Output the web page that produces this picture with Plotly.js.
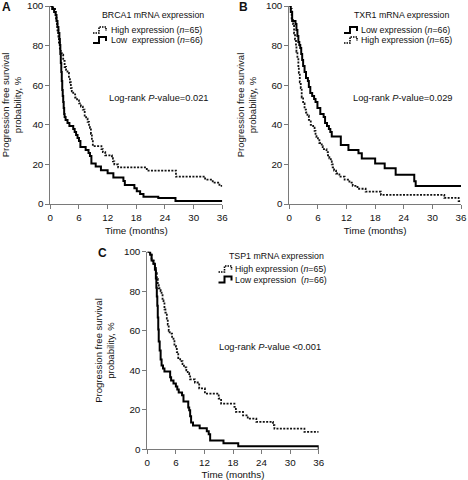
<!DOCTYPE html>
<html><head><meta charset="utf-8">
<script src="https://cdn.plot.ly/plotly-3.0.1.min.js"></script>
<style>html,body{margin:0;padding:0;background:#fff}#chart{width:468px;height:480px}</style>
</head><body><div id="chart"></div>
<script>
// ---- data (months, % progression-free) ----
const xTicks = [0, 6, 12, 18, 24, 30, 36];
const yTicks = [0, 20, 40, 60, 80, 100];

// Panel A: BRCA1
const brca1HighT = [0,0.6,1.0,1.2,1.4,1.5,1.7,1.8,2.0,2.2,2.4,2.7,3.0,3.3,3.6,3.9,4.1,4.3,4.5,4.8,5.2,5.6,6.0,6.4,6.8,7.2,7.5,7.8,8.1,8.3,8.5,8.7,8.9,10.7,11.0,11.5,12.9,13.1,13.4,14.2,20.2,26.3,32.4,34.0,35.4,36];
const brca1HighS = [100,98.5,96.9,93.8,90.8,87.7,84.6,81.5,78.5,76.9,75.4,72.3,69.2,67.7,66.2,63.1,61.5,58.5,56.9,55.4,53.8,52.3,50.8,49.2,47.7,44.6,43.1,41.5,40.0,38.5,35.4,32.3,29.2,27.7,26.2,24.6,23.1,21.5,20.0,18.5,16.9,13.8,12.3,10.8,9.2,9.2];
const brca1LowT = [0,0.4,0.8,1.1,1.3,1.5,1.7,1.9,2.0,2.1,2.2,2.3,2.4,2.5,2.6,2.7,2.8,2.9,3.0,3.2,3.6,4.0,4.8,5.1,5.4,5.7,6.0,6.3,7.4,8.0,8.3,8.6,9.5,10.6,12.0,13.2,15.3,15.6,17.6,18.1,18.8,19.5,22.6,26.2,36];
const brca1LowS = [100,98.5,97.0,95.5,92.4,89.4,86.4,83.3,80.3,75.8,71.2,66.7,62.1,57.6,54.5,51.5,48.5,45.5,43.9,42.4,40.9,39.4,37.9,36.4,34.8,33.3,31.8,28.8,27.3,25.8,24.2,20.5,18.9,17.0,15.5,13.4,11.6,9.6,7.9,6.4,5.0,3.7,3.0,1.5,1.5];

// Panel B: TXR1
const txr1LowT = [0,0.3,0.6,1.3,1.5,1.7,1.9,2.1,2.3,2.5,2.7,2.9,3.2,3.5,3.9,4.1,4.4,4.8,5.2,5.5,5.9,6.5,7.2,7.5,7.9,8.3,8.6,8.9,10.8,12.4,14.5,15.2,18.0,20.0,22.3,26.2,26.5,36];
const txr1LowS = [100,97.0,92.4,90.9,87.9,84.8,81.8,80.3,78.8,75.8,72.7,69.7,66.7,63.6,62.1,59.1,56.1,54.5,53.0,51.5,48.5,45.5,43.9,40.9,39.4,37.9,36.4,34.1,29.8,27.3,25.6,23.0,20.5,18.0,14.8,11.5,9.1,9.1];
const txr1HighT = [0,0.3,0.5,0.8,1.0,1.2,1.4,1.5,1.7,1.9,2.0,2.2,2.4,2.6,2.9,3.2,3.5,3.8,4.1,4.5,5.0,5.3,5.5,5.7,6.0,6.3,6.8,7.0,7.8,8.1,8.4,8.7,8.9,9.1,9.4,9.8,10.5,11.6,12.6,13.3,14.3,16.0,19.2,32.5,35.5,36];
const txr1HighS = [100,98.5,93.8,90.8,86.2,83.1,80.0,76.9,73.8,69.2,66.2,61.5,58.5,53.8,50.8,47.7,46.2,44.6,42.5,40.0,38.5,36.9,35.4,33.8,32.3,30.8,29.2,27.7,26.2,24.6,23.1,21.5,20.0,18.5,16.9,15.4,13.8,12.3,10.8,9.2,7.7,6.2,4.6,3.1,1.5,1.5];

// Panel C: TSP1
const tsp1HighT = [0,0.6,0.9,1.3,1.6,1.8,2.0,2.2,2.4,2.8,3.0,3.2,3.4,3.6,3.8,4.1,4.3,4.5,4.7,5.2,5.5,5.7,6.0,6.2,6.5,6.9,7.4,7.7,8.2,8.5,8.8,9.0,10.0,10.9,12.1,15.0,15.5,18.3,18.6,20.1,21.1,22.9,26.4,26.7,33.0,36];
const tsp1HighS = [100,98.5,95.4,93.8,92.3,89.2,86.2,83.1,81.5,80.0,78.5,75.4,73.8,70.8,69.2,66.2,63.1,60.0,58.5,56.9,55.4,52.3,50.8,49.2,46.2,44.6,43.1,41.5,40.0,38.5,36.9,35.4,33.8,30.8,28.2,25.7,23.1,21.5,18.9,17.2,15.5,13.9,12.2,10.5,8.8,8.8];
const tsp1LowT = [0,0.6,0.9,1.3,1.6,1.8,1.9,2.0,2.1,2.2,2.3,2.4,2.6,2.8,3.0,3.3,3.6,4.8,5.0,5.5,6.0,6.3,6.6,7.3,7.6,8.6,8.8,9.0,9.2,9.6,11.0,12.5,12.9,13.2,16.0,19.1,36];
const tsp1LowS = [100,98.5,95.5,93.9,90.9,86.4,81.8,77.3,72.7,66.7,60.6,54.5,50.0,45.5,42.4,40.9,39.4,36.4,34.8,33.3,31.8,30.3,28.8,27.3,24.2,21.2,19.7,16.7,13.6,12.1,10.6,9.1,7.6,4.5,3.0,1.5,0];

// ---- helpers ----
const W = 468, H = 480;
const px = x => x / W, py = y => 1 - y / H;
const FONT = 'Liberation Sans, Arial, Helvetica, sans-serif';
const AXC = '#7a7a7a';

const solid = {color: '#000', width: 2, shape: 'hv'};
const dotted = {color: '#111', width: 1.8, dash: '2px,1.4px', shape: 'hv'};

function tr(x, y, line, n) {
  return {x, y, type: 'scatter', mode: 'lines', line, xaxis: 'x' + n, yaxis: 'y' + n,
          showlegend: false, hoverinfo: 'skip', cliponaxis: false};
}

const data = [
  tr(brca1HighT, brca1HighS, dotted, ''),
  tr(brca1LowT, brca1LowS, solid, ''),
  tr(txr1HighT, txr1HighS, dotted, '2'),
  tr(txr1LowT, txr1LowS, solid, '2'),
  tr(tsp1HighT, tsp1HighS, dotted, '3'),
  tr(tsp1LowT, tsp1LowS, solid, '3'),
];

function xAxis(x0, x1, anchor) {
  return {domain: [px(x0), px(x1)], anchor, range: [0, 36], tickvals: xTicks,
    ticks: 'outside', ticklen: 4, tickwidth: 1, tickcolor: AXC,
    showline: true, linecolor: AXC, linewidth: 1, showgrid: false, zeroline: false,
    tickfont: {size: 9.8, color: '#111'},
    title: {text: 'Time (months)', font: {size: 9.8, color: '#111'}, standoff: 5}};
}
function yAxis(y0, y1, anchor) {
  return {domain: [py(y1), py(y0)], anchor, range: [0, 100], tickvals: yTicks,
    ticks: 'outside', ticklen: 4, tickwidth: 1, tickcolor: AXC,
    showline: true, linecolor: AXC, linewidth: 1, showgrid: false, zeroline: false,
    tickfont: {size: 9.8, color: '#111'},
    title: {text: 'Progression free survival<br>probability, %', font: {size: 9.5, color: '#111'}, standoff: 7}};
}

function ann(x, y, text, size, opts) {
  return Object.assign({xref: 'paper', yref: 'paper', x: px(x), y: py(y), text,
    showarrow: false, xanchor: 'left', yanchor: 'middle',
    font: {size, color: '#111', family: FONT}}, opts || {});
}

// legend key glyph (step symbol), pixel coords converted to paper
function key(x0, yMid, dash) {
  const a = x0, b = x0 + 6, c = x0 + 13, yb = yMid + 3, yt = yMid - 3, ym = yMid + 1;
  const path = `M ${px(a)},${py(yb)} L ${px(b)},${py(yb)} L ${px(b)},${py(yt)} L ${px(c)},${py(yt)} L ${px(c)},${py(ym)}`;
  return {type: 'path', xref: 'paper', yref: 'paper', path,
    line: {color: '#000', width: dash ? 1.6 : 2, dash: dash ? '1.5px,1px' : 'solid'}};
}

const LF = 8.8;
const layout = {
  width: W, height: H,
  margin: {l: 0, r: 0, t: 0, b: 0},
  paper_bgcolor: '#fff', plot_bgcolor: '#fff',
  font: {family: FONT, color: '#111'},
  showlegend: false,
  xaxis: xAxis(50.3, 222.3, 'y'),
  yaxis: yAxis(6, 204, 'x'),
  xaxis2: xAxis(289.3, 461, 'y2'),
  yaxis2: yAxis(6, 204, 'x2'),
  xaxis3: xAxis(147.3, 318.7, 'y3'),
  yaxis3: yAxis(251.7, 449.3, 'x3'),
  annotations: [
    ann(0, 7, '<b>A</b>', 12),
    ann(237, 7, '<b>B</b>', 12),
    ann(96, 253, '<b>C</b>', 12),

    ann(100, 15, 'BRCA1 mRNA expression', LF),
    ann(108.5, 30, 'High expression (<i>n</i>=65)', LF),
    ann(108.5, 40, 'Low&nbsp; expression (<i>n</i>=66)', LF),
    ann(107, 98, 'Log-rank <i>P</i>-value=0.021', 9.3),

    ann(352, 15, 'TXR1 mRNA expression', LF),
    ann(359, 30, 'Low expression (<i>n</i>=66)', LF),
    ann(359, 40, 'High expression (<i>n</i>=65)', LF),
    ann(351, 98, 'Log-rank <i>P</i>-value=0.029', 9.3),

    ann(227, 255.5, 'TSP1 mRNA expression', LF),
    ann(233, 269, 'High expression (<i>n</i>=65)', LF),
    ann(233, 279.5, 'Low expression&nbsp; (<i>n</i>=66)', LF),
    ann(217, 346.5, 'Log-rank <i>P</i>-value &lt;0.001', 9.3),
  ],
  shapes: [
    key(93, 30, true), key(93, 40, false),
    key(344, 30, false), key(344, 40, true),
    key(218.5, 269, true), key(218.5, 279.5, false),
  ],
};

Plotly.newPlot('chart', data, layout, {staticPlot: true, displayModeBar: false});
</script>
</body></html>
